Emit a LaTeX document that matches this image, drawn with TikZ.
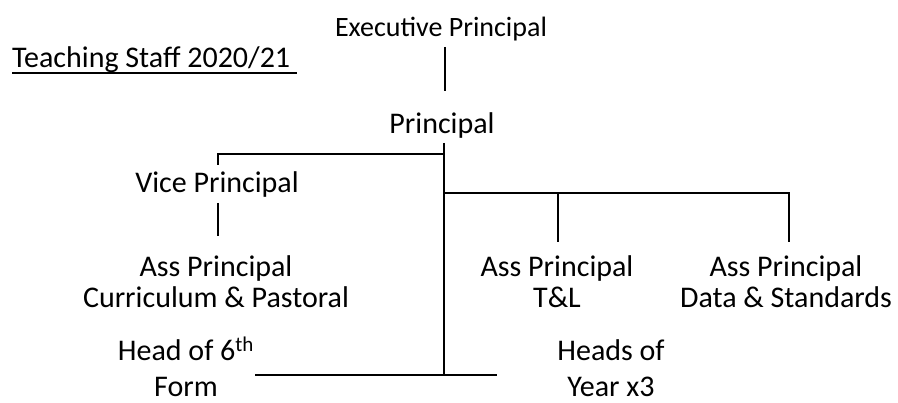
\documentclass[tikz,border=0pt]{standalone}
\usepackage{fontspec}
\setmainfont{Carlito}
\begin{document}
\begin{tikzpicture}[x=1pt,y=-1pt,
  lbl/.style={inner sep=0pt, anchor=base, align=center, font=\fontsize{30}{31}\selectfont},
  lblwide/.style={lbl, font=\fontsize{30}{36}\selectfont, text depth=0pt},
  conn/.style={line width=2.8pt, line cap=butt}]
\useasboundingbox (0,0) rectangle (898,403);
\node[lbl, font=\fontsize{28}{31}\selectfont] (exec) at (441,37) {Executive Principal};
\node[lbl] (prin) at (442,134) {Principal};
\node[lbl] (vice) at (217,193) {Vice Principal};
\node[lbl] (apcp) at (216,308) {Ass Principal\\Curriculum \& Pastoral};
\node[lbl] (aptl) at (557,308) {Ass Principal\\T\&L};
\node[lbl] (apds) at (786,308) {Ass Principal\\Data \& Standards};
\node[lblwide] (h6) at (186,397) {Head of 6\textsuperscript{th}\\Form};
\node[lblwide] (hoy) at (611,397) {Heads of\\Year x3};
\node[lbl, anchor=base west] (title) at (12,68) {Teaching Staff 2020/21};
\coordinate (u1) at (12,73);
\coordinate (u2) at (297,73);
\draw[line width=2pt] (u1) -- (u2);
% connectors
\coordinate (e1) at (445,47);
\coordinate (e2) at (445,91);
\draw[conn] (e1) -- (e2);
\coordinate (p1) at (444,143);
\coordinate (p2) at (444,376);
\draw[conn] (p1) -- (p2);
\coordinate (vl) at (218,154);
\coordinate (vt) at (218,165);
\draw[conn] (444,154) -- (vl) -- (vt);
\coordinate (v1) at (218,203);
\coordinate (v2) at (218,236);
\draw[conn] (v1) -- (v2);
\coordinate (r1) at (789,193);
\coordinate (r2) at (789,242);
\draw[conn] (444,193) -- (r1) -- (r2);
\coordinate (t1) at (558,193);
\coordinate (t2) at (558,242);
\draw[conn] (t1) -- (t2);
\coordinate (bl) at (255,375);
\coordinate (br) at (497,375);
\draw[conn] (bl) -- (br);
\end{tikzpicture}
\end{document}
